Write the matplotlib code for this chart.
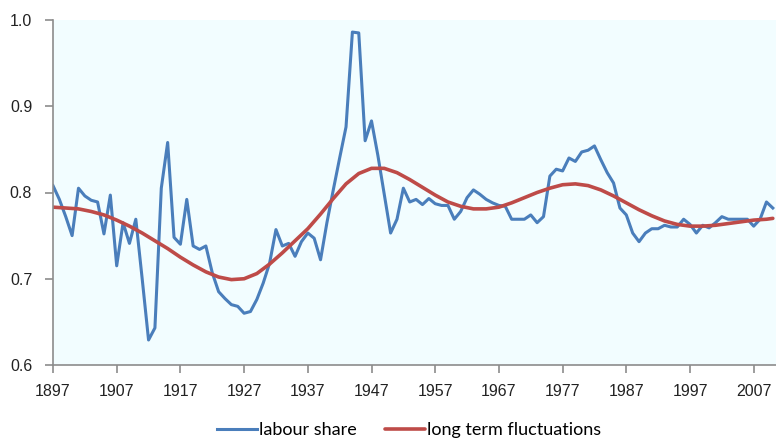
import matplotlib.pyplot as plt
import numpy as np

# labour share, annual, 1897-2010
years = np.arange(1897, 2011)
labour_share = [
    0.808, 0.792, 0.772, 0.750, 0.805, 0.796, 0.791, 0.789, 0.752, 0.797,  # 1897-1906
    0.715, 0.765, 0.741, 0.769, 0.700, 0.629, 0.643, 0.805, 0.858, 0.748,  # 1907-1916
    0.740, 0.792, 0.738, 0.734, 0.738, 0.707, 0.685, 0.677, 0.670, 0.668,  # 1917-1926
    0.660, 0.662, 0.676, 0.695, 0.718, 0.757, 0.738, 0.741, 0.726, 0.743,  # 1927-1936
    0.753, 0.747, 0.722, 0.765, 0.803, 0.840, 0.876, 0.986, 0.985, 0.860,  # 1937-1946
    0.883, 0.843, 0.798, 0.753, 0.769, 0.805, 0.789, 0.792, 0.786, 0.793,  # 1947-1956
    0.787, 0.785, 0.785, 0.769, 0.778, 0.794, 0.803, 0.798, 0.792, 0.788,  # 1957-1966
    0.785, 0.784, 0.769, 0.769, 0.769, 0.774, 0.765, 0.772, 0.819, 0.827,  # 1967-1976
    0.825, 0.840, 0.836, 0.847, 0.849, 0.854, 0.838, 0.823, 0.811, 0.782,  # 1977-1986
    0.774, 0.753, 0.743, 0.753, 0.758, 0.758, 0.762, 0.760, 0.760, 0.769,  # 1987-1996
    0.763, 0.753, 0.762, 0.759, 0.765, 0.772, 0.769, 0.769, 0.769, 0.769,  # 1997-2006
    0.761, 0.769, 0.789, 0.782,                                            # 2007-2010
]

# long term fluctuations, read every two years
trend_years = [
    1897, 1899, 1901, 1903, 1905, 1907, 1909, 1911, 1913, 1915, 1917, 1919,
    1921, 1923, 1925, 1927, 1929, 1931, 1933, 1935, 1937, 1939, 1941, 1943,
    1945, 1947, 1949, 1951, 1953, 1955, 1957, 1959, 1961, 1963, 1965, 1967,
    1969, 1971, 1973, 1975, 1977, 1979, 1981, 1983, 1985, 1987, 1989, 1991,
    1993, 1995, 1997, 1999, 2001, 2003, 2005, 2007, 2009, 2010,
]
trend = [
    0.783, 0.782, 0.781, 0.778, 0.774, 0.768, 0.761, 0.753, 0.744, 0.735, 0.725, 0.716,
    0.708, 0.702, 0.699, 0.700, 0.706, 0.717, 0.730, 0.744, 0.758, 0.775, 0.793, 0.810,
    0.822, 0.828, 0.828, 0.823, 0.815, 0.806, 0.797, 0.789, 0.784, 0.781, 0.781, 0.783,
    0.788, 0.794, 0.800, 0.805, 0.809, 0.810, 0.808, 0.803, 0.796, 0.788, 0.780, 0.773,
    0.767, 0.763, 0.761, 0.761, 0.762, 0.764, 0.766, 0.768, 0.769, 0.770,
]

xticks = np.arange(1897, 2008, 10)
yticks = [0.6, 0.7, 0.8, 0.9, 1.0]

fig = plt.figure(figsize=(7.76, 4.41), dpi=100)
ax = fig.add_axes([53 / 776, 1 - 365 / 441, 1 - 53 / 776, (365 - 20) / 441])
ax.set_facecolor("#F2FDFF")

ax.plot(years, labour_share, color="#4A7EBB", linewidth=2.2, label="labour share",
        solid_joinstyle="round")
ax.plot(trend_years, trend, color="#BE4B48", linewidth=2.6, label="long term fluctuations",
        solid_capstyle="round")

ax.set_xlim(1897, 2010.5)
ax.set_ylim(0.6, 1.0)
ax.set_xticks(xticks)
ax.set_xticklabels([str(y) for y in xticks])
ax.set_yticks(yticks)
ax.set_yticklabels([f"{v:.1f}" for v in yticks])

for side in ["top", "right"]:
    ax.spines[side].set_visible(False)
for side in ["left", "bottom"]:
    ax.spines[side].set_color("#8C8C8C")
    ax.spines[side].set_linewidth(1.2)

ax.tick_params(axis="both", direction="out", length=6, width=1.2, color="#8C8C8C",
               labelsize=11.5, labelcolor="#222222")
ax.tick_params(axis="x", pad=8)
ax.tick_params(axis="y", pad=9)
for lbl in ax.get_xticklabels() + ax.get_yticklabels():
    lbl.set_fontfamily("Liberation Sans")

fig.legend(loc="center", bbox_to_anchor=(0.527, 0.025), ncol=2, frameon=False,
           prop={"family": "Lato", "size": 13}, handlelength=2.2, columnspacing=1.6,
           handletextpad=0.1)

fig.savefig("out.png", dpi=100)
